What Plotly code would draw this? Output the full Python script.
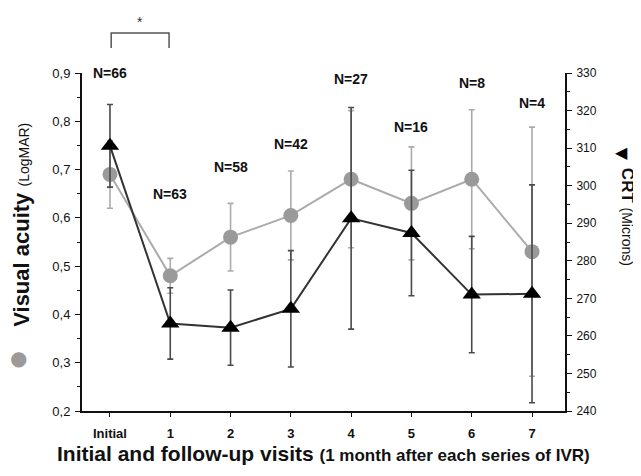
import plotly.graph_objects as go

# ---- data ----
visits = ["Initial", "1", "2", "3", "4", "5", "6", "7"]
n_labels = ["N=66", "N=63", "N=58", "N=42", "N=27", "N=16", "N=8", "N=4"]
va_mean = [0.69, 0.48, 0.56, 0.605, 0.68, 0.63, 0.68, 0.53]
va_err = [0.07, 0.036, 0.07, 0.092, 0.142, 0.117, 0.144, 0.258]
crt_mean = [310.6, 263.3, 262.2, 267.2, 291.3, 287.4, 271.0, 271.2]
crt_err = [11.0, 9.5, 10.0, 15.5, 29.5, 16.7, 15.5, 29.0]
va_tickvals = [0.2, 0.3, 0.4, 0.5, 0.6, 0.7, 0.8, 0.9]
va_ticktext = ["0,2", "0,3", "0,4", "0,5", "0,6", "0,7", "0,8", "0,9"]
crt_tickvals = [240, 250, 260, 270, 280, 290, 300, 310, 320, 330]

# layout-only positions of the N labels (in left-axis units)
n_label_y = [0.90, 0.649, 0.705, 0.753, 0.887, 0.788, 0.879, 0.838]

x = list(range(len(visits)))
FONT = "Arial, Liberation Sans, sans-serif"

fig = go.Figure()
fig.add_trace(go.Scatter(
    x=x, y=va_mean, mode="lines+markers",
    line=dict(color="#ababab", width=2),
    marker=dict(symbol="circle", size=15, color="#9a9a9a"),
    error_y=dict(type="data", array=va_err, color="#ababab", thickness=1.6, width=3),
    yaxis="y", cliponaxis=False,
))
fig.add_trace(go.Scatter(
    x=x, y=crt_mean, mode="lines+markers",
    line=dict(color="#333333", width=2),
    marker=dict(symbol="triangle-up", size=16, color="#000000"),
    error_y=dict(type="data", array=crt_err, color="#4a4a4a", thickness=1.6, width=3),
    yaxis="y2", cliponaxis=False,
))

annotations = []
for i, lab in enumerate(n_labels):
    annotations.append(dict(x=i, y=n_label_y[i], xref="x", yref="y", text="<b>%s</b>" % lab,
                            xanchor="center", yanchor="middle",
                            showarrow=False, font=dict(size=14, color="#111", family=FONT)))
# significance star
annotations.append(dict(x=0.5, y=1.15, xref="x", yref="paper", text="*", showarrow=False,
                        xanchor="center", yanchor="middle",
                        font=dict(size=14, color="#333", family=FONT)))
# x axis title
annotations.append(dict(x=0.5, y=-0.125, xref="paper", yref="paper", xanchor="center", yanchor="middle",
                        text="<b>Initial and follow-up visits</b> <span style='font-size:17px'><b>(1 month after each series of IVR)</b></span>",
                        showarrow=False, font=dict(size=21, color="#111", family=FONT)))
# left title
annotations.append(dict(x=-0.127, y=0.55, xref="paper", yref="paper", textangle=-90,
                        xanchor="center", yanchor="middle",
                        text="<b>Visual acuity</b> <span style='font-size:14px'>(LogMAR)</span>",
                        showarrow=False, font=dict(size=22, color="#111", family=FONT)))
annotations.append(dict(x=-0.1325, y=0.158, xref="paper", yref="paper",
                        xanchor="center", yanchor="middle",
                        text="●", showarrow=False, font=dict(size=20, color="#9a9a9a", family="DejaVu Sans")))
# right title
annotations.append(dict(x=1.13, y=0.575, xref="paper", yref="paper", textangle=90,
                        xanchor="center", yanchor="middle",
                        text="<b>CRT</b> <span style='font-size:14px'>(Microns)</span>",
                        showarrow=False, font=dict(size=17, color="#111", family=FONT)))
annotations.append(dict(x=1.118, y=0.766, xref="paper", yref="paper",
                        xanchor="center", yanchor="middle",
                        text="◀", showarrow=False, font=dict(size=16, color="#000", family="DejaVu Sans")))

shapes = [dict(type="path", xref="x", yref="paper",
               path="M 0.02,1.074 L 0.02,1.118 L 0.98,1.118 L 0.98,1.074",
               line=dict(color="#555555", width=1.5))]

fig.update_layout(
    width=633, height=468,
    margin=dict(l=74, r=76, t=65, b=65),
    plot_bgcolor="white", paper_bgcolor="white",
    showlegend=False,
    font=dict(family=FONT, color="#111"),
    annotations=annotations, shapes=shapes,
    xaxis=dict(range=[-0.464, 7.547], tickvals=x, ticktext=["<b>%s</b>" % v for v in visits],
               showline=True, linecolor="#111", linewidth=2, ticks="outside", ticklen=4,
               tickcolor="#111", showgrid=False, zeroline=False, tickfont=dict(size=13),
               ticklabelstandoff=5),
    yaxis=dict(range=[0.2, 0.9], tickvals=va_tickvals, ticktext=va_ticktext,
               showline=True, linecolor="#111", linewidth=2, ticks="outside", ticklen=5,
               tickcolor="#111", showgrid=False, zeroline=False, tickfont=dict(size=13),
               ticklabelstandoff=2,
               minor=dict(ticks="outside", ticklen=3, dtick=0.05, tickcolor="#111")),
    yaxis2=dict(range=[240, 330], tickvals=crt_tickvals, overlaying="y", side="right",
                showline=True, linecolor="#111", linewidth=2, ticks="outside", ticklen=5,
                tickcolor="#111", showgrid=False, zeroline=False, tickfont=dict(size=12),
                ticklabelstandoff=2,
                minor=dict(ticks="outside", ticklen=3, dtick=5, tickcolor="#111")),
)

fig.write_html("out.html")
